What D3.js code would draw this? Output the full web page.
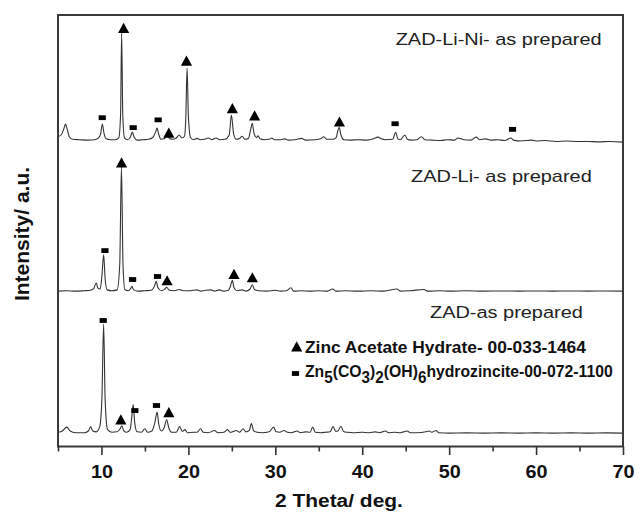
<!DOCTYPE html>
<html><head><meta charset="utf-8">
<script src="https://cdn.jsdelivr.net/npm/d3@7"></script>
<style>body{margin:0;background:#fff} svg{display:block}</style>
</head><body><svg id="c" width="638" height="515"></svg>
<script>
// ---------------- DATA ----------------
const xTicksMajor = [10, 20, 30, 40, 50, 60, 70];
const xTicksMinor = [5, 15, 25, 35, 45, 55, 65];
const xTitle = "2 Theta/ deg.";
const yTitle = "Intensity/ a.u.";
const sampleNames = ["ZAD-as prepared", "ZAD-Li- as prepared", "ZAD-Li-Ni- as prepared"];
const baselineOffsets = [3.1, 36.0, 71.0];

// [2theta, intensity above baseline]
const traceZAD = [[5.0,0.2],[5.5,0.5],[6.0,1.4],[6.4,0.5],[7.0,0.1],[8.0,0.1],[8.5,0.5],[8.75,1.5],[9.0,0.5],[9.4,0.3],[9.8,1.5],[10.05,8],[10.25,25.3],[10.42,8],[10.7,0.8],[11.2,0.2],[11.8,0.3],[12.15,1.0],[12.35,1.7],[12.55,0.6],[12.9,0.2],[13.3,0.8],[13.5,4.0],[13.65,6.6],[13.82,2.5],[14.1,0.3],[14.6,0.2],[15.0,1.0],[15.3,0.2],[15.8,0.5],[16.15,2.5],[16.4,4.9],[16.6,2.0],[16.9,0.5],[17.2,1.2],[17.5,3.1],[17.75,1.2],[18.1,0.2],[18.6,0.2],[19.0,1.5],[19.3,0.4],[19.6,0.8],[19.9,0.1],[20.6,0.2],[21.0,0.2],[21.4,1.0],[21.7,0.2],[22.3,0.1],[23.0,0.6],[23.4,0.1],[24.1,0.2],[24.5,0.8],[24.8,0.2],[25.2,0.4],[25.5,0.6],[25.9,0.2],[26.3,1.0],[26.6,0.3],[27.0,0.6],[27.25,2.2],[27.5,0.6],[27.9,0.2],[28.5,0.1],[29.3,0.3],[29.8,1.4],[30.1,0.3],[30.5,0.2],[31.0,0.6],[31.4,0.2],[31.9,0.1],[32.5,0.5],[32.9,0.1],[33.5,0.3],[34.0,0.2],[34.3,1.4],[34.6,0.2],[35.2,0.1],[35.8,0.2],[36.3,0.3],[36.65,1.5],[36.95,0.4],[37.2,0.5],[37.55,1.6],[37.85,0.4],[38.3,0.2],[39.0,0.1],[40.0,0.2],[40.8,0.1],[41.5,0.3],[42.0,0.1],[42.7,0.5],[43.0,0.1],[43.7,0.2],[44.4,0.1],[45.2,0.5],[45.5,0.1],[46.3,0.1],[47.3,0.3],[47.7,0.5],[48.0,0.2],[48.5,0.6],[48.8,0.1],[50.0,0.0],[52,0.05],[54,0.0],[56,0.05],[58,0.0],[60,0.05],[62,0.0],[64,0.05],[66,0.0],[68,0.05],[70,0.0]];

const traceLi = [[5.0,0.0],[6.0,0.1],[7.0,0.0],[8.0,0.1],[8.7,0.2],[9.1,0.6],[9.4,1.9],[9.6,0.7],[9.85,0.5],[10.05,3.5],[10.25,8.4],[10.42,3.0],[10.65,0.3],[11.2,0.1],[11.8,0.3],[12.1,6.0],[12.3,28.8],[12.48,6.0],[12.7,0.3],[13.1,0.1],[13.35,0.6],[13.5,1.1],[13.7,0.3],[14.2,0.0],[15.0,0.1],[15.7,0.2],[16.1,1.2],[16.3,2.3],[16.5,0.8],[16.9,0.1],[17.25,0.4],[17.5,0.9],[17.8,0.2],[18.4,0.1],[19.0,0.4],[19.4,0.1],[20.2,0.1],[21.0,0.3],[21.4,0.0],[22.0,0.2],[22.6,0.3],[23.0,0.0],[23.6,0.3],[24.0,0.0],[24.6,0.2],[24.85,1.2],[25.05,2.5],[25.25,0.8],[25.6,0.1],[26.2,0.3],[26.6,0.0],[27.1,0.5],[27.35,1.5],[27.6,0.4],[28.1,0.1],[29.0,0.0],[30.0,0.2],[30.6,0.0],[31.3,0.1],[31.8,0.8],[32.1,0.0],[33.0,0.1],[34.0,0.0],[35.0,0.1],[36.0,0.0],[36.6,0.5],[37.0,0.0],[38.0,0.1],[39.5,0.0],[41.0,0.1],[42.5,0.0],[44.0,0.5],[44.4,0.0],[45.5,0.1],[47.1,0.4],[47.5,0.0],[49,0.1],[50,0.0],[52,0.1],[54,0.0],[56,0.05],[58,0.0],[60,0.05],[62,0.0],[64,0.05],[66,0.0],[68,0.05],[70,0.0]];

const traceLiNi = [[5.0,0.8],[5.4,1.3],[5.7,2.8],[5.85,3.7],[6.05,2.6],[6.3,0.8],[6.7,0.2],[7.5,0.1],[8.5,0.0],[9.2,0.1],[9.6,0.4],[9.9,1.4],[10.1,3.7],[10.3,1.5],[10.55,0.3],[11.0,0.1],[11.6,0.1],[12.0,0.6],[12.2,6.0],[12.32,24.8],[12.45,6.0],[12.65,0.5],[13.0,0.1],[13.35,0.8],[13.55,1.9],[13.75,0.7],[14.1,0.0],[14.8,0.1],[15.4,0.2],[15.9,0.6],[16.25,2.0],[16.4,2.8],[16.55,1.6],[16.85,0.2],[17.2,0.3],[17.55,0.9],[17.85,0.4],[18.2,0.2],[18.6,0.5],[18.95,1.2],[19.25,0.5],[19.55,0.9],[19.7,5.0],[19.85,16.7],[20.0,5.5],[20.25,0.6],[20.6,0.1],[21.0,0.4],[21.35,0.1],[21.8,0.2],[22.3,0.5],[22.7,0.1],[23.2,0.5],[23.6,0.1],[24.2,0.2],[24.7,1.2],[24.95,5.8],[25.2,1.5],[25.5,0.2],[25.9,0.4],[26.2,0.9],[26.5,0.2],[26.9,0.4],[27.2,2.8],[27.35,3.9],[27.55,1.6],[27.85,0.6],[28.0,1.0],[28.25,0.3],[28.7,0.1],[29.3,0.2],[29.6,0.5],[29.9,0.1],[30.6,0.1],[31.1,0.3],[31.5,0.0],[32.3,0.1],[33.0,0.4],[33.5,0.0],[34.6,0.1],[35.2,0.3],[35.6,0.8],[35.9,0.2],[36.6,0.2],[37.0,0.6],[37.2,2.2],[37.35,3.0],[37.55,1.2],[37.9,0.1],[38.6,0.0],[39.5,0.1],[40.5,0.0],[41.3,0.3],[41.8,0.7],[42.2,0.3],[42.6,0.1],[43.5,0.2],[43.85,1.8],[44.1,0.3],[44.4,0.1],[44.9,1.2],[45.2,0.2],[45.6,0.0],[46.3,0.1],[46.8,0.8],[47.2,0.1],[48.0,0.0],[49.0,-0.1],[49.8,0.1],[50.6,0.0],[51.0,0.5],[51.4,0.3],[51.7,0.1],[52.5,0.0],[53.1,0.7],[53.5,0.1],[54.2,0.3],[54.8,0.0],[55.6,0.1],[56.4,-0.1],[57.1,0.5],[57.4,0.0],[58.2,-0.2],[59.5,0.0],[60.0,-0.2],[61.0,-0.1],[62.3,-0.3],[63.5,-0.2],[64.8,-0.3],[66,-0.3],[67.2,-0.4],[68.5,-0.3],[70,-0.45]];

// phase markers: [2theta, absolute intensity, type]  tri = zinc acetate hydrate, sq = hydrozincite
const markersZAD = [[10.2,29.2,"sq"],[12.23,6.25,"tri"],[13.84,8.33,"sq"],[16.33,9.5,"sq"],[17.75,7.94,"tri"]];
const markersLi = [[10.4,45.4,"sq"],[12.31,65.8,"tri"],[13.58,38.7,"sq"],[16.45,39.4,"sq"],[17.55,38.5,"tri"],[25.25,40.0,"tri"],[27.36,39.2,"tri"]];
const markersLiNi = [[10.09,76.2,"sq"],[12.55,97.0,"tri"],[13.65,73.9,"sq"],[16.52,75.7,"sq"],[17.75,72.7,"tri"],[19.78,89.4,"tri"],[25.06,78.4,"tri"],[27.62,76.7,"tri"],[37.38,75.3,"tri"],[43.78,74.8,"sq"],[57.29,73.5,"sq"]];

const legendZincAcetate = "Zinc Acetate Hydrate- 00-033-1464";
const legendHydrozincite = [["Zn",0],["5",1],["(CO",0],["3",1],[")",0],["2",1],["(OH)",0],["6",1],["hydrozincite-00-072-1100",0]];

// ---------------- DRAW ----------------
const svg = d3.select("#c");
const FONT = "'Liberation Sans', Arial, Helvetica, sans-serif";
const INK = "#2b2b2b";
const L = 58, R = 623, T = 15, B = 446.5;

const x = d3.scaleLinear().domain([5, 70]).range([L, R]);
const y = d3.scaleLinear().domain([0, 100]).range([B, T]);

function fitW(sel, x0, w) {
  const n = sel.node().getBBox().width;
  sel.attr("transform", `translate(${x0},0) scale(${w / n},1) translate(${-x0},0)`);
}

const traces = [traceZAD, traceLi, traceLiNi];
const line = d3.line().curve(d3.curveMonotoneX);
traces.forEach((tr, i) => {
  const off = baselineOffsets[i];
  svg.append("path")
    .attr("d", line(tr.map(d => [x(d[0]), y(d[1] + off)])))
    .attr("fill", "none").attr("stroke", "#333").attr("stroke-width", 1.1)
    .attr("stroke-linejoin", "round");
});

const triPath = "M0,-5.2L5.6,5L-5.6,5Z";
function drawMarker(g, px, py, type) {
  if (type === "tri") {
    g.append("path").attr("d", triPath).attr("transform", `translate(${px},${py})`).attr("fill", "#000");
  } else {
    g.append("rect").attr("x", px - 3.6).attr("y", py - 2.4).attr("width", 7.2).attr("height", 4.8).attr("fill", "#000");
  }
}
const mg = svg.append("g");
[markersZAD, markersLi, markersLiNi].forEach(ms => ms.forEach(m => drawMarker(mg, x(m[0]), y(m[1]), m[2])));

// frame
svg.append("rect").attr("x", L).attr("y", T).attr("width", R - L).attr("height", B - T)
  .attr("fill", "none").attr("stroke", "#3a3a3a").attr("stroke-width", 2);

// axes
const gMinor = svg.append("g").attr("transform", `translate(0,${B})`)
  .call(d3.axisBottom(x).tickValues(xTicksMinor).tickSize(5).tickFormat(""));
const gMajor = svg.append("g").attr("transform", `translate(0,${B})`)
  .call(d3.axisBottom(x).tickValues(xTicksMajor).tickSize(8.5).tickFormat(d3.format("d")));
[gMinor, gMajor].forEach(g => {
  g.select(".domain").remove();
  g.selectAll(".tick line").attr("stroke", "#333").attr("stroke-width", 1.6);
});
gMajor.selectAll(".tick text")
  .attr("y", 31.5).attr("dy", 0)
  .attr("font-family", FONT).attr("font-size", 18).attr("font-weight", "bold").attr("fill", "#111")
  .attr("transform", "scale(1.1,1)");

// axis titles
const xt = svg.append("text").attr("x", 275).attr("y", 507.5).text(xTitle)
  .attr("font-family", FONT).attr("font-size", 17.5).attr("font-weight", "bold").attr("fill", "#111");
fitW(xt, 275, 128);

svg.append("text").attr("transform", "translate(29,234) rotate(-90)")
  .attr("text-anchor", "middle").text(yTitle)
  .attr("font-family", FONT).attr("font-size", 21).attr("font-weight", "bold").attr("fill", "#111");

// sample labels
const labelLayout = [{x: 430, y: 318.3, w: 153}, {x: 411, y: 182.5, w: 181}, {x: 395.7, y: 45.5, w: 206}];
sampleNames.forEach((s, i) => {
  const lay = labelLayout[i];
  const t = svg.append("text").attr("x", lay.x).attr("y", lay.y).text(s)
    .attr("font-family", FONT).attr("font-size", 17).attr("fill", "#222");
  fitW(t, lay.x, lay.w);
});

// legend
drawMarker(svg, 296.7, 346.5, "tri");
drawMarker(svg, 295.5, 373.5, "sq");
const l1 = svg.append("text").attr("x", 305).attr("y", 352.7).text(legendZincAcetate)
  .attr("font-family", FONT).attr("font-size", 16.5).attr("font-weight", "bold").attr("fill", "#111");
fitW(l1, 305, 282);
const l2 = svg.append("text").attr("x", 305).attr("y", 377.5)
  .attr("font-family", FONT).attr("font-size", 16.5).attr("font-weight", "bold").attr("fill", "#111");
let prev = 0;
legendHydrozincite.forEach(([s, sub]) => {
  l2.append("tspan").text(s).attr("dy", (sub - prev) * 6).attr("font-size", sub ? 16 : 16.5);
  prev = sub;
});
fitW(l2, 305, 308);
</script></body></html>
